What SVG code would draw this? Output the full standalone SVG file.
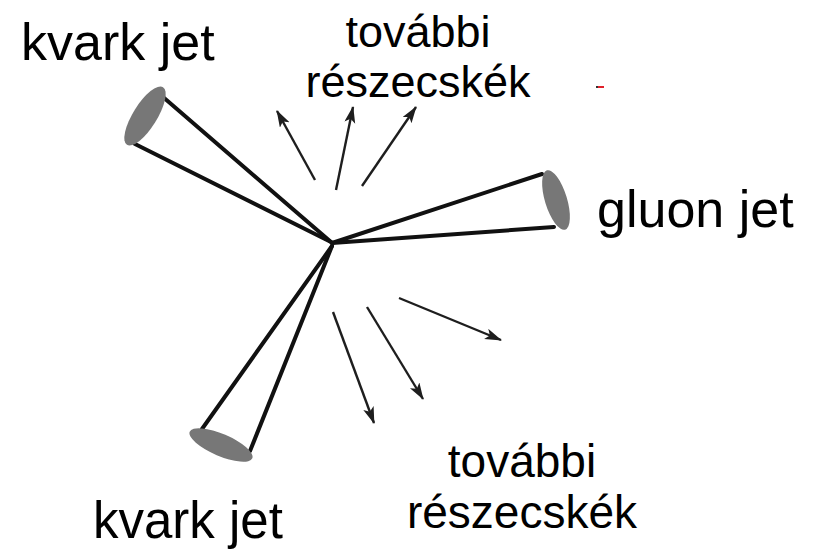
<svg xmlns="http://www.w3.org/2000/svg" width="813" height="550" viewBox="0 0 813 550">
  <defs>
    <marker id="head" markerUnits="userSpaceOnUse" markerWidth="18" markerHeight="12" refX="16" refY="5.5" orient="auto">
      <path d="M0,0 L17,5.5 L0,11 L4,5.5 Z" fill="#1e1e1e"/>
    </marker>
    <style>
      .label { font-family: "Liberation Sans", Arial, sans-serif; fill: #000; }
      .cone { stroke: #111; stroke-width: 4; stroke-linecap: round; fill: none; }
      .mouth { fill: #777; }
      .particle { stroke: #1e1e1e; stroke-width: 2.4; fill: none; marker-end: url(#head); }
    </style>
  </defs>
  <rect width="813" height="550" fill="#fff"/>

  <!-- jets: two lines from the vertex to an elliptical mouth -->
  <g id="connectors">
    <g id="jet-quark-top">
      <line class="cone" x1="331" y1="242" x2="163" y2="97"/>
      <line class="cone" x1="331" y1="242" x2="135" y2="144"/>
    </g>
    <g id="jet-gluon">
      <line class="cone" x1="332" y1="243" x2="542" y2="174"/>
      <line class="cone" x1="332" y1="243" x2="554" y2="227"/>
    </g>
    <g id="jet-quark-bottom">
      <line class="cone" x1="332" y1="246" x2="202" y2="429"/>
      <line class="cone" x1="332" y1="246" x2="250" y2="451"/>
    </g>
    <!-- outgoing particles, upper group -->
    <g id="particles-top">
      <line class="particle" x1="315" y1="180" x2="277" y2="111"/>
      <line class="particle" x1="336" y1="190" x2="353" y2="107"/>
      <line class="particle" x1="362" y1="186" x2="416" y2="107"/>
    </g>
    <!-- outgoing particles, lower group -->
    <g id="particles-bottom">
      <line class="particle" x1="333" y1="312" x2="374" y2="423"/>
      <line class="particle" x1="367" y1="307" x2="423" y2="399"/>
      <line class="particle" x1="399" y1="298" x2="501" y2="340"/>
    </g>
  </g>

  <g id="mouth-quark-top">
    <ellipse class="mouth" cx="145" cy="116" rx="34" ry="12" transform="rotate(-58 145 116)"/>
  </g>
  <g id="mouth-gluon">
    <ellipse class="mouth" cx="556" cy="200" rx="31" ry="11" transform="rotate(73 556 200)"/>
  </g>
  <g id="mouth-quark-bottom">
    <ellipse class="mouth" cx="221" cy="445" rx="34" ry="11" transform="rotate(23 221 445)"/>
  </g>

  <g id="label-quark-top">
    <text class="label" x="21" y="60" font-size="52">kvark jet</text>
  </g>
  <g id="label-gluon">
    <text class="label" x="597" y="227" font-size="52">gluon jet</text>
  </g>
  <g id="label-quark-bottom">
    <text class="label" x="93" y="538" font-size="51">kvark jet</text>
  </g>
  <g id="label-particles-top">
    <text class="label" x="418" y="47" font-size="45" text-anchor="middle">további</text>
    <text class="label" x="418" y="97" font-size="45" text-anchor="middle">részecskék</text>
  </g>
  <g id="label-particles-bottom">
    <text class="label" x="522" y="477" font-size="46" text-anchor="middle">további</text>
    <text class="label" x="522" y="528" font-size="46" text-anchor="middle">részecskék</text>
  </g>

  <!-- small red tick -->
  <rect x="597" y="86" width="7" height="2" fill="#e0202a"/>
  <rect x="596" y="86" width="2" height="2" fill="#333"/>
</svg>
